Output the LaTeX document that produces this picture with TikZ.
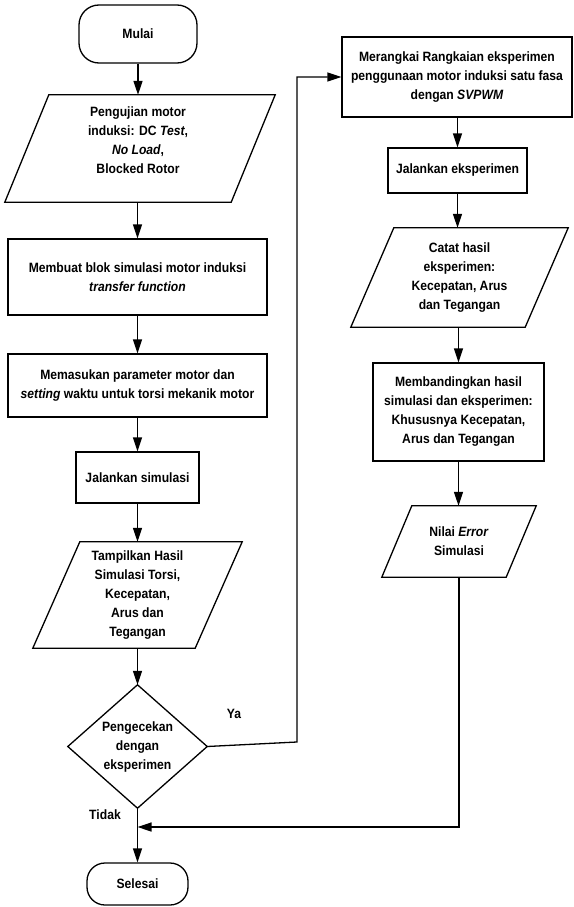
\documentclass[tikz,border=0pt]{standalone}
\usepackage{fontspec}
\setmainfont{Liberation Sans}[FakeStretch=0.9]
\usetikzlibrary{arrows.meta,calc}
\newcommand\fs{\fontsize{13.5}{19}\selectfont\bfseries}
\newcommand\paradraw[2]{\draw[line width=1.3pt] ($(#1.north west)+(#2/2,0)$) -- ($(#1.north east)+(#2/2,0)$) -- ($(#1.south east)-(#2/2,0)$) -- ($(#1.south west)-(#2/2,0)$) -- cycle;}
\tikzset{
  box/.style={draw, line width=1.3pt, align=center, inner sep=0pt, font=\fs},
  plain/.style={align=center, inner sep=0pt, font=\fs},
  term/.style={box, rounded corners=20pt},
  arr/.style={line width=1.3pt, -{Triangle[length=14pt,width=9pt]}},
  ln/.style={line width=1.3pt}
}
\begin{document}
\begin{tikzpicture}[x=1pt,y=-1pt]
\useasboundingbox (0,0) rectangle (573,907);
% left column
\node[term, minimum width=118pt, minimum height=58pt] (mulai) at (138,34) {Mulai};
\node[plain, minimum width=226pt, minimum height=107pt] (p1) at (140,148.5) {};
\paradraw{p1}{44}
\node[plain] (p1t) at (138,140) {Pengujian motor\\induksi: DC \textit{Test},\\\textit{No Load},\\Blocked Rotor};
\node[box, minimum width=259pt, minimum height=76pt] (r1) at (137.5,277) {Membuat blok simulasi motor induksi\\\textit{transfer function}};
\node[box, minimum width=259pt, minimum height=63pt] (r2) at (137.5,385.5) {Memasukan parameter motor dan\\\textit{setting} waktu untuk torsi mekanik motor};
\node[box, minimum width=123pt, minimum height=51pt] (js) at (137.5,477.5) {Jalankan simulasi};
\node[plain, minimum width=162pt, minimum height=106pt] (p2) at (137.5,595) {Tampilkan Hasil\\Simulasi Torsi,\\Kecepatan,\\Arus dan\\Tegangan};
\paradraw{p2}{47}
\node[plain, minimum width=139pt, minimum height=123pt] (d) at (137.5,746.5) {Pengecekan\\dengan\\eksperimen};
\draw[ln] (d.north) -- (d.east) -- (d.south) -- (d.west) -- cycle;
\node[term, rounded corners=18pt, minimum width=101pt, minimum height=42pt] (sel) at (137.5,884) {Selesai};
\node[plain] (ya) at (234,714) {Ya};
\node[plain] (tidak) at (105,815) {Tidak};
% right column
\node[box, minimum width=230pt, minimum height=80pt] (r3) at (457,77) {Merangkai Rangkaian eksperimen\\penggunaan motor induksi satu fasa\\dengan \textit{SVPWM}};
\node[box, minimum width=139pt, minimum height=45pt] (je) at (457.5,170.5) {Jalankan eksperimen};
\node[plain, minimum width=174pt, minimum height=99pt] (p3) at (459.5,277.5) {Catat hasil\\eksperimen:\\Kecepatan, Arus\\dan Tegangan};
\paradraw{p3}{43}
\node[box, minimum width=171pt, minimum height=98pt] (r4) at (458.5,412) {Membandingkan hasil\\simulasi dan eksperimen:\\Khususnya Kecepatan,\\Arus dan Tegangan};
\node[plain, minimum width=124pt, minimum height=71pt] (ne) at (459,541.5) {Nilai \textit{Error}\\Simulasi};
\paradraw{ne}{30}
% coordinates
\coordinate (ya1) at (297,742);
\coordinate (jn) at (137.5,827);
% connectors
\draw[arr] (mulai.south) -- (mulai.south |- p1.north);
\draw[arr] (r1.north |- p1.south) -- (r1.north);
\draw[arr] (r1.south) -- (r2.north);
\draw[arr] (r2.south) -- (js.north);
\draw[arr] (js.south) -- (p2.north);
\draw[arr] (p2.south) -- (d.north);
\draw[arr] (d.south) -- (sel.north);
\draw[arr] (d.east) -- (ya1) |- (r3.west);
\draw[arr] (je.north |- r3.south) -- (je.north);
\draw[arr] (je.south) -- (je.south |- p3.north);
\draw[arr] (r4.north |- p3.south) -- (r4.north);
\draw[arr] (r4.south) -- (r4.south |- ne.north);
\draw[arr] (ne.south) |- (jn);
\end{tikzpicture}
\end{document}
